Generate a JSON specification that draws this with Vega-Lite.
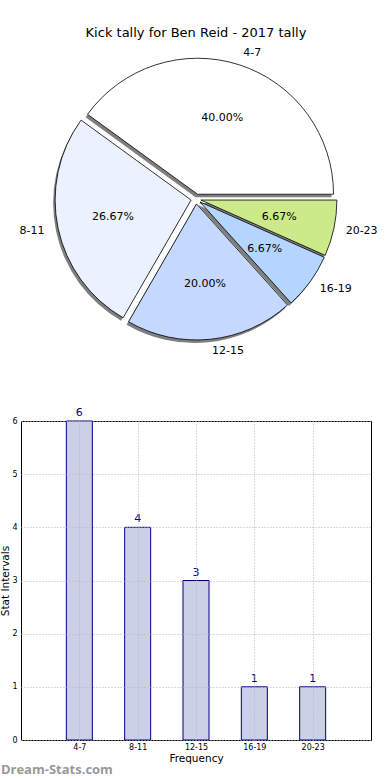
{
  "$schema": "https://vega.github.io/schema/vega-lite/v6.json",
  "padding": {"top": 26, "left": 0, "right": 0, "bottom": 0},
  "background": "white",
  "bounds": "flush",
  "center": true,
  "spacing": 73,
  "config": {"view": {"stroke": null}, "font": "DejaVu Sans"},
  "datasets": {
    "kicks": [
      {"range": "4-7", "count": 6, "share": 0.4, "idx": 1},
      {"range": "8-11", "count": 4, "share": 0.26667, "idx": 2},
      {"range": "12-15", "count": 3, "share": 0.2, "idx": 3},
      {"range": "16-19", "count": 1, "share": 0.06667, "idx": 4},
      {"range": "20-23", "count": 1, "share": 0.06667, "idx": 5}
    ]
  },
  "vconcat": [
    {
      "width": 390,
      "height": 298,
      "title": {"text": "Kick tally for Ben Reid - 2017 tally", "fontSize": 13, "fontWeight": "normal", "font": "DejaVu Sans", "color": "black", "frame": "group", "offset": 6},
      "data": {"name": "kicks"},
      "transform": [{"joinaggregate": [{"op": "sum", "field": "count", "as": "total"}]}],
      "encoding": {
        "theta": {"field": "count", "type": "quantitative", "stack": true, "scale": {"range": [1.5708, 7.854]}},
        "order": {"field": "idx", "sort": "descending"}
      },
      "layer": [
        {"mark": {"type": "arc", "radius": 136, "fill": "#7f7f7f", "stroke": null,
          "xOffset": {"expr": "-2 + 5*sin(PI/2 + PI*(datum.count_start + datum.count_end)/datum.total)"},
          "yOffset": {"expr": "3 - 5*cos(PI/2 + PI*(datum.count_start + datum.count_end)/datum.total)"}}},
        {
          "mark": {"type": "arc", "radius": 136, "stroke": "black", "strokeWidth": 0.8,
            "xOffset": {"expr": "5*sin(PI/2 + PI*(datum.count_start + datum.count_end)/datum.total)"},
            "yOffset": {"expr": "-5*cos(PI/2 + PI*(datum.count_start + datum.count_end)/datum.total)"}},
          "encoding": {
            "color": {"field": "range", "type": "nominal", "sort": null, "legend": null,
              "scale": {"domain": ["4-7", "8-11", "12-15", "16-19", "20-23"], "range": ["#ffffff", "#ebf1ff", "#c5d8ff", "#b3d5ff", "#cdea8a"]}}
          }
        },
        {
          "mark": {"type": "text", "radius": 80, "fontSize": 11, "font": "DejaVu Sans", "color": "black",
            "xOffset": {"expr": "5*sin(PI/2 + PI*(datum.count_start + datum.count_end)/datum.total)"},
            "yOffset": {"expr": "-5*cos(PI/2 + PI*(datum.count_start + datum.count_end)/datum.total)"}},
          "encoding": {"text": {"field": "share", "type": "quantitative", "format": ".2%"}}
        },
        {
          "mark": {"type": "text", "radius": 148, "fontSize": 11, "font": "DejaVu Sans", "color": "black", "align": "left",
            "xOffset": {"expr": "5*sin(PI/2 + PI*(datum.count_start + datum.count_end)/datum.total)"},
            "yOffset": {"expr": "-5*cos(PI/2 + PI*(datum.count_start + datum.count_end)/datum.total)"}},
          "encoding": {"text": {"condition": {"test": "datum.idx != 2", "field": "range"}, "value": ""}}
        },
        {
          "mark": {"type": "text", "radius": 150, "fontSize": 11, "font": "DejaVu Sans", "color": "black", "align": "right",
            "xOffset": {"expr": "5*sin(PI/2 + PI*(datum.count_start + datum.count_end)/datum.total)"},
            "yOffset": {"expr": "-5*cos(PI/2 + PI*(datum.count_start + datum.count_end)/datum.total)"}},
          "encoding": {"text": {"condition": {"test": "datum.idx == 2", "field": "range"}, "value": ""}}
        }
      ]
    },
    {
      "width": 350,
      "height": 319,
      "view": {"stroke": "black", "strokeWidth": 1},
      "title": {"text": "Dream-Stats.com", "orient": "bottom", "anchor": "start", "frame": "bounds", "fontSize": 13, "fontWeight": "bold", "color": "#999999", "font": "Open Sans", "offset": 0},
      "data": {"name": "kicks"},
      "encoding": {
        "x": {"field": "range", "type": "nominal", "sort": null, "scale": {"type": "point", "padding": 1},
          "axis": {"title": "Frequency", "titleFontSize": 10.5, "titleFontWeight": "normal", "titleColor": "black", "titlePadding": 2,
            "labelFontSize": 8, "labelAngle": 0, "labelColor": "black", "labelPadding": 3, "ticks": false, "domain": false,
            "grid": true, "gridDash": [1, 2], "gridColor": "#b4b4b4", "zindex": 1}},
        "y": {"field": "count", "type": "quantitative", "scale": {"domain": [0, 6], "nice": false},
          "axis": {"title": "Stat Intervals", "titleFontSize": 10.5, "titleFontWeight": "normal", "titleColor": "black", "titlePadding": 1,
            "values": [0, 1, 2, 3, 4, 5, 6], "labelFontSize": 8, "labelColor": "black", "labelPadding": 4, "ticks": false, "domain": false,
            "grid": true, "gridDash": [1, 2], "gridColor": "#b4b4b4", "zindex": 1}}
      },
      "layer": [
        {"mark": {"type": "bar", "size": 26, "fill": "#ccd0e6", "stroke": "#000080", "strokeWidth": 1}},
        {"mark": {"type": "text", "baseline": "bottom", "dy": -3, "fontSize": 11, "color": "#000080", "font": "DejaVu Sans"},
          "encoding": {"text": {"field": "count", "type": "quantitative"}}}
      ]
    }
  ]
}
